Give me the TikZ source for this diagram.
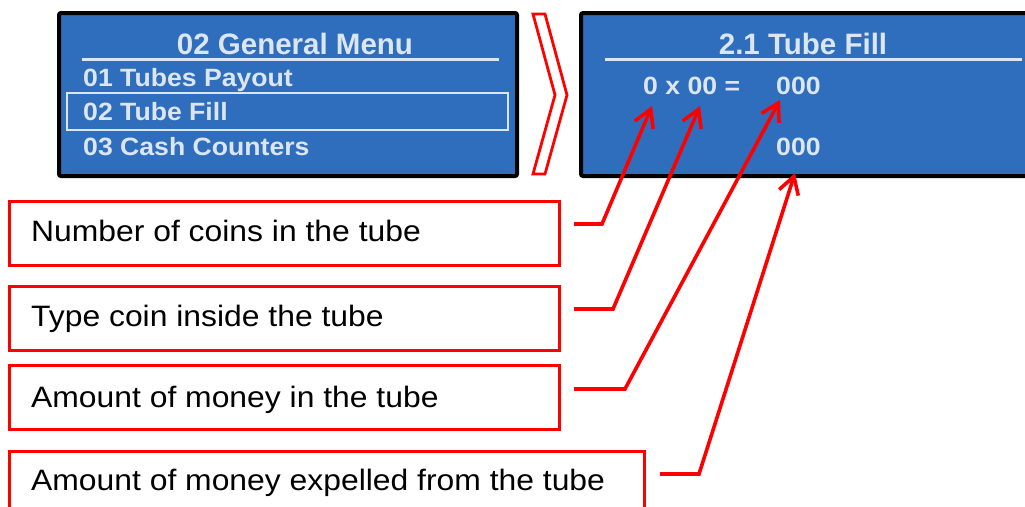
\documentclass[tikz,border=0pt]{standalone}
\usepackage{fontspec}
\setmainfont{Liberation Sans}
\newfontfamily\lcdfont{Liberation Sans}[FakeStretch=1.065]
\newfontfamily\notefont{Liberation Sans}[FakeStretch=1.08]
\usetikzlibrary{arrows.meta}
\definecolor{lcdblue}{HTML}{2F6EBD}
\definecolor{lcdtext}{HTML}{DCE6F2}
\definecolor{callred}{HTML}{FF0000}

\begin{document}
\begin{tikzpicture}[x=1pt,y=-1pt,
  panel/.style={draw=black, line width=4pt, fill=lcdblue, rounded corners=2pt},
  lcdtitle/.style={text=lcdtext, font=\fontsize{29.5}{30}\selectfont\bfseries, inner sep=0pt, anchor=base},
  lcditem/.style={text=lcdtext, font=\lcdfont\fontsize{25}{26}\selectfont\bfseries, inner sep=0pt, anchor=base west},
  rule/.style={draw=lcdtext, line width=3pt},
  notebox/.style={draw=callred, line width=3.4pt, anchor=north west, inner sep=0pt},
  notetext/.style={font=\notefont\fontsize{29.5}{30}\selectfont, inner sep=0pt, anchor=base west},
  leader/.style={draw=callred, line width=3.6pt, line join=miter,
    -{Straight Barb[length=17pt,width=20pt]}}
]
\useasboundingbox (0,0) rectangle (1025,506);

% menu screen
\draw[panel] (59,13) rectangle (517,176);
\node[lcdtitle] (gtitle) at (295,54.5) {02 General Menu};
\draw[rule] (82,59) -- (499,59);
\node[lcditem] (item1) at (83,86) {01 Tubes Payout};
\node[lcditem] (item2) at (83,120) {02 Tube Fill};
\node[lcditem] (item3) at (83,155) {03 Cash Counters};
\draw[draw=lcdtext, line width=1.6pt] (67,93) rectangle (508,130);

% chevron between the screens
\draw[callred, line width=2.8pt, fill=white, line join=miter]
  (533,14) -- (545,14) -- (567,95) -- (545,174) -- (533,174) -- (555,95) -- cycle;

% tube fill screen
\draw[panel] (581,13) rectangle (1045,176);
\node[lcdtitle] (ftitle) at (803,54.5) {2.1 Tube Fill};
\draw[rule] (605,59) -- (1022,59);
\node[lcditem] (mult) at (643,94) {0 x 00 =};
\node[lcditem] (amount) at (776,94) {000};
\node[lcditem] (expelled) at (776,155) {000};

% callout boxes
\node[notebox, minimum width=550pt, minimum height=64pt] (n1) at (8,200) {};
\node[notetext] (n1t) at (31,241) {Number of coins in the tube};
\node[notebox, minimum width=550pt, minimum height=64pt] (n2) at (8,285) {};
\node[notetext] (n2t) at (31,326) {Type coin inside the tube};
\node[notebox, minimum width=550pt, minimum height=64pt] (n3) at (8,364) {};
\node[notetext] (n3t) at (31,407) {Amount of money in the tube};
\node[notebox, minimum width=635pt, minimum height=80pt] (n4) at (8,450) {};
\node[notetext] (n4t) at (31,490) {Amount of money expelled from the tube};

% leader anchors
\coordinate (s1) at (574,224);
\coordinate (s2) at (574,309);
\coordinate (s3) at (574,389);
\coordinate (s4) at (660,474);
\coordinate (t1) at (652,106);
\coordinate (t2) at (700,106);
\coordinate (t3) at (780,100);
\coordinate (t4) at (795,173);

\draw[leader] (s1) -- (602,224) -- (t1);
\draw[leader] (s2) -- (613,309) -- (t2);
\draw[leader] (s3) -- (625,389) -- (t3);
\draw[leader] (s4) -- (699,474) -- (t4);
\end{tikzpicture}
\end{document}
